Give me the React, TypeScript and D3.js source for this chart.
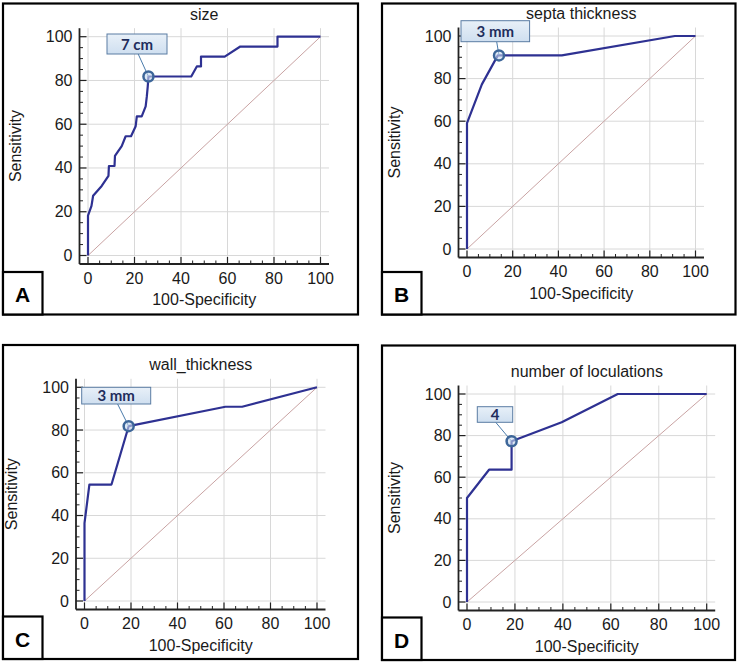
import React from 'react';
import * as d3 from 'd3';

type Pt = [number, number];

// ---- data (100-Specificity, Sensitivity) ----
const titles = ['size', 'septa thickness', 'wall_thickness', 'number of loculations'];
const letters = ['A', 'B', 'C', 'D'];
const cutoffLabels = ['7 cm', '3 mm', '3 mm', '4'];
const tickValues = [0, 20, 40, 60, 80, 100];

const sizeRoc: Pt[] = [
  [0, 0], [0, 18.2], [1.5, 22.7], [2.2, 27.3], [5.9, 31.8], [8.8, 36.4], [9, 40.9],
  [11.4, 40.9], [11.6, 45.5], [14.5, 50], [16.2, 54.5], [18.5, 54.5], [20.5, 59.1],
  [21, 63.6], [23.1, 63.6], [24.8, 68.2], [25.3, 72.7], [25.7, 77.3], [26, 81.8],
  [44.4, 81.8], [46.8, 86.4], [48.6, 86.4], [48.6, 90.9], [58.8, 90.9], [65.5, 95.5],
  [81.5, 95.5], [81.5, 100], [100, 100],
];
const septaRoc: Pt[] = [
  [0, 0], [0, 59.1], [6.5, 77.3], [13.5, 90.9], [41.5, 90.9], [91, 100], [100, 100],
];
const wallRoc: Pt[] = [
  [0, 0], [0, 36.4], [2.1, 54.5], [11.6, 54.5], [19, 81.8], [60.6, 90.9], [67.8, 90.9], [100, 100],
];
const loculRoc: Pt[] = [
  [0, 0], [0, 50], [9.2, 63.6], [18.6, 63.6], [18.6, 77.3], [39.5, 86.4], [62.9, 100], [100, 100],
];
const curves = [sizeRoc, septaRoc, wallRoc, loculRoc];
const cutoffs: Pt[] = [[26, 81.8], [14, 90.9], [19, 81.8], [18.6, 77.3]];

// ---- layout of each panel: outer box, plot range, cut-off label box ----
const layouts = [
  { box: [3, 3.5, 355, 311], plot: [88, 320.5, 255.5, 36.7], tag: [107, 34, 60, 20] },
  { box: [382, 3.5, 353.5, 311], plot: [467, 695.5, 249, 36], tag: [461, 20.7, 68.6, 21] },
  { box: [3, 345, 355, 314], plot: [84.5, 317, 601, 387.3], tag: [81.7, 387.3, 69, 16.7] },
  { box: [382, 345.5, 353, 314.5], plot: [467, 706.7, 602, 394], tag: [477.3, 406.7, 35.4, 15.6] },
];

const FONT = '"Liberation Sans", Arial, sans-serif';
const FS = 16;
const INK = '#1a1a1a';

function Panel({ i }: { i: number }) {
  const L = layouts[i];
  const [bx, by, bw, bh] = L.box;
  const [px0, px1, py0, py1] = L.plot;
  const [tx, ty, tw, th] = L.tag;

  const x = d3.scaleLinear().domain([0, 100]).range([px0, px1]);
  const y = d3.scaleLinear().domain([0, 100]).range([py0, py1]);
  const off = 8.5;
  const axL = px0 - off;
  const axB = py0 + off;
  const axR = px1 + off;
  const axT = py1 - off;

  const line = d3.line<Pt>().x((d) => x(d[0])).y((d) => y(d[1]));
  const minor = d3.range(0, 101, 5).filter((v) => v % 20 !== 0);
  const [cx, cy] = [x(cutoffs[i][0]), y(cutoffs[i][1])];

  return (
    <g>
      {/* grid */}
      {tickValues.map((t) => (
        <g key={'g' + t}>
          <line x1={axL} x2={axR} y1={y(t)} y2={y(t)} stroke="#d8d8d8" strokeWidth={1} />
          <line x1={x(t)} x2={x(t)} y1={axT} y2={axB} stroke="#d8d8d8" strokeWidth={1} />
        </g>
      ))}

      {/* reference diagonal */}
      <line x1={x(0)} y1={y(0)} x2={x(100)} y2={y(100)} stroke="#c9a3a3" strokeWidth={1} />

      {/* axes */}
      <line x1={axL} x2={axL} y1={axT} y2={axB} stroke="#222" strokeWidth={1.8} />
      <line x1={axL} x2={axR} y1={axB} y2={axB} stroke="#222" strokeWidth={1.8} />
      {minor.map((t) => (
        <g key={'m' + t}>
          <line x1={axL} x2={axL + 3.5} y1={y(t)} y2={y(t)} stroke="#222" strokeWidth={1} />
          <line x1={x(t)} x2={x(t)} y1={axB} y2={axB - 3.5} stroke="#222" strokeWidth={1} />
        </g>
      ))}
      {tickValues.map((t) => (
        <g key={'t' + t}>
          <line x1={axL} x2={axL + 7} y1={y(t)} y2={y(t)} stroke="#222" strokeWidth={1.2} />
          <line x1={x(t)} x2={x(t)} y1={axB} y2={axB - 7} stroke="#222" strokeWidth={1.2} />
          <text x={axL - 7} y={y(t) + 5.5} textAnchor="end" fontSize={FS} fontFamily={FONT} fill={INK}>
            {t}
          </text>
          <text x={x(t)} y={axB + 19.5} textAnchor="middle" fontSize={FS} fontFamily={FONT} fill={INK}>
            {t}
          </text>
        </g>
      ))}

      {/* titles */}
      <text x={(px0 + px1) / 2} y={py1 - 17} textAnchor="middle" fontSize={FS} fontFamily={FONT} fill={INK}>
        {titles[i]}
      </text>
      <text x={(px0 + px1) / 2} y={axB + 41} textAnchor="middle" fontSize={FS} fontFamily={FONT} fill={INK}>
        100-Specificity
      </text>
      <text
        transform={`translate(${axL - 59},${(py0 + py1) / 2}) rotate(-90)`}
        textAnchor="middle"
        fontSize={FS}
        fontFamily={FONT}
        fill={INK}
      >
        Sensitivity
      </text>

      {/* ROC curve */}
      <path d={line(curves[i]) ?? ''} fill="none" stroke="#2e3192" strokeWidth={2.2} strokeLinejoin="round" />

      {/* cut-off marker and label */}
      <line x1={tx + tw * 0.52} y1={ty + th} x2={cx} y2={cy} stroke="#4a7bab" strokeWidth={1} />
      <circle cx={cx} cy={cy} r={5} fill="#c6d9ee" fillOpacity={0.6} stroke="#3d6699" strokeWidth={2.5} />
      <rect x={tx} y={ty} width={tw} height={th} fill="url(#tagFill)" stroke="#5a7ca3" strokeWidth={1} />
      <text
        x={tx + tw / 2}
        y={ty + th / 2 + 5.5}
        textAnchor="middle"
        fontSize={15}
        fontWeight={700}
        fontFamily="Lato, 'Open Sans', sans-serif"
        fill="#1f2d5c"
      >
        {cutoffLabels[i]}
      </text>

      {/* panel frame and letter */}
      <rect x={bx} y={by} width={bw} height={bh} fill="none" stroke="#000" strokeWidth={2.2} />
      <rect x={bx} y={by + bh - 42.5} width={39.5} height={42.5} fill="#fff" stroke="#000" strokeWidth={2.2} />
      <text
        x={bx + 19.5}
        y={by + bh - 12.5}
        textAnchor="middle"
        fontSize={21}
        fontWeight={700}
        fontFamily={FONT}
        fill="#000"
      >
        {letters[i]}
      </text>
    </g>
  );
}

export default function App() {
  return (
    <svg
      width={740}
      height={663}
      viewBox="0 0 740 663"
      style={{ position: 'absolute', left: 0, top: 0, background: '#fff' }}
    >
      <defs>
        <linearGradient id="tagFill" x1="0" y1="0" x2="0" y2="1">
          <stop offset="0%" stopColor="#e8f0f8" />
          <stop offset="100%" stopColor="#cfdff0" />
        </linearGradient>
      </defs>
      <rect width={740} height={663} fill="#fff" />
      {layouts.map((_, i) => (
        <Panel key={i} i={i} />
      ))}
    </svg>
  );
}
